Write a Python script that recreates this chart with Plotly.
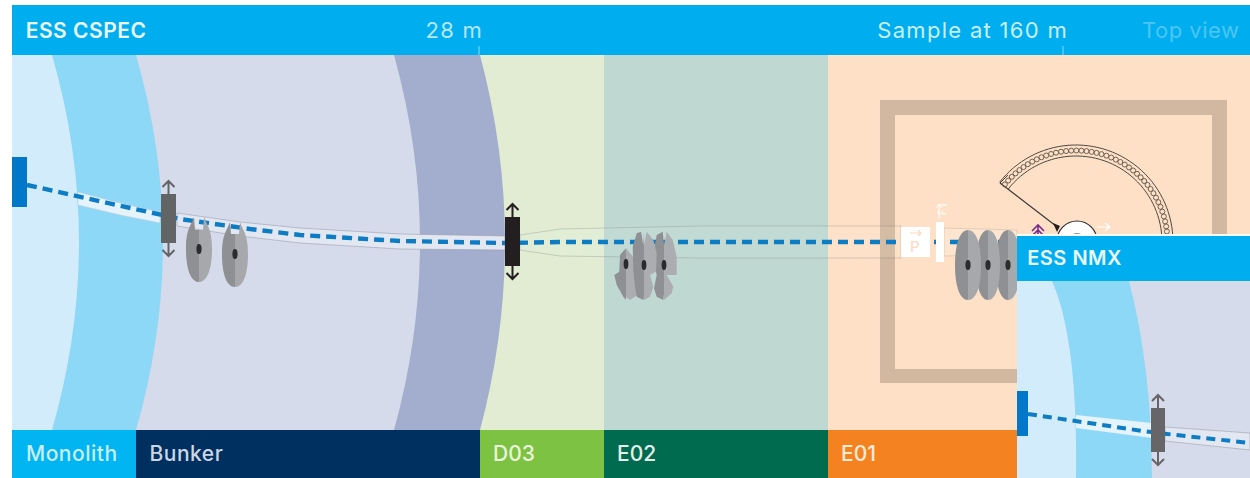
import json
import math
import plotly.graph_objects as go

W, H = 1250, 478

# --- text and section data ---
section_names = ["Monolith", "Bunker", "D03", "E02", "E01"]
section_left = [12, 136, 480, 604, 828]
section_right = [136, 480, 604, 828, 1017]
section_colors = ["#00B5F1", "#00305F", "#7DC242", "#006B4F", "#F58220"]
section_text = ["#C9EEFC", "#CBD6E6", "#EAF4DC", "#E2EFEA", "#FDEBD8"]
section_nudge = [2.5, 1.5, 0, 0, 0]
zone_colors = ["#FDE0C6", "#BFD8D2", "#E1ECD3"]

# zone boundaries: x at top/bottom, x of curve control
arc_names = ["dark", "lavender", "mid", "light"]
arc_edge = [480, 394, 136, 52]
arc_ctrl = [530, 446, 190, 106]
arc_colors = ["#A3ADCD", "#D5DBEB", "#8DD7F7", "#D3ECFB"]

# beam lines
beam_x = [27, 160, 180, 250, 300, 400, 505, 560, 800, 1017, 1100]
beam_y = [185, 215, 219, 229, 235, 241, 243, 242, 242, 242, 242]
band1_x = [78, 120, 160, 160, 120, 78]
band1_y = [192, 203, 212, 223, 215, 205]
band2_x = [177, 240, 300, 400, 505, 505, 400, 300, 240, 177]
band2_y = [213, 222, 228, 234, 236, 250, 249, 243, 236, 226]
band3_x = [520, 560, 700, 901, 901, 700, 560, 520]
band3_y = [235, 229, 226, 226, 258, 258, 256, 250]
band4_x = [944, 1017, 1017, 944]
band4_y = [228, 230, 254, 256]

# detector
det_cx, det_cy = 1076, 242
bead_angles = [141, 137.8, 134.6, 131.4, 128.2, 125, 121.8, 118.6, 115.4, 112.2, 109, 105.8, 102.6, 99.4,
               96.2, 93, 89.8, 86.6, 83.4, 80.2, 77, 73.8, 70.6, 67.4, 64.2, 61, 57.8, 54.6, 51.4, 48.2,
               45, 41.8, 38.6, 35.4, 32.2, 29, 25.8, 22.6, 19.4, 16.2, 13, 9.8, 6.6]

# choppers: centre x, centre y, half width, half height, notch
disc_x = [199, 235, 1008, 988, 968]
disc_y = [249, 254, 265, 265, 265]
disc_hw = [13, 13, 12, 12, 13]
disc_hh = [33, 33, 35, 35, 35]
disc_notch = [14, 13, 0, 0, 0]

# E02 chopper cluster outlines (crop coordinates, crop origin 480,190 at 3x)
clu1_u = [437, 420, 418, 403, 410, 430, 450, 472, 475, 470, 455]
clu1_v = [175, 195, 245, 255, 285, 320, 330, 315, 260, 225, 195]
clu2_u = [458, 470, 483, 490, 500, 520, 530, 528, 510, 520, 510, 490, 470, 465, 460]
clu2_v = [170, 130, 125, 165, 125, 150, 190, 245, 255, 290, 320, 330, 320, 290, 240]
clu3_u = [525, 530, 548, 553, 560, 578, 590, 590, 560, 580, 575, 550, 530, 522, 530, 522]
clu3_v = [165, 135, 125, 165, 125, 150, 200, 255, 255, 290, 310, 330, 320, 295, 255, 220]
clu_hub_x = [626, 644, 664]
clu_hub_y = [264, 265, 265]

# actuators: x left, x right, top, bottom, colour
act_l = [161, 505]
act_r = [176, 520]
act_t = [194, 217]
act_b = [243, 266]
act_c = ["#636466", "#231F20"]

below, above = [], []


def rect(store, x0, x1, y0, y1, color):
    store.append(dict(type="rect", x0=x0, x1=x1, y0=y0, y1=y1, fillcolor=color,
                      line=dict(width=0), layer="below" if store is below else "above"))


def path(store, d, fill=None, line=None, width=0, dash=None):
    s = dict(type="path", path=d, layer="below" if store is below else "above",
             line=dict(width=width, color=line or "rgba(0,0,0,0)"))
    if fill:
        s["fillcolor"] = fill
    if dash:
        s["line"]["dash"] = dash
    store.append(s)


def ellipse(store, cx, cy, rx, ry, fill, line=None, width=0):
    store.append(dict(type="circle", x0=cx - rx, x1=cx + rx, y0=cy - ry, y1=cy + ry, fillcolor=fill,
                      line=dict(width=width, color=line or "rgba(0,0,0,0)"),
                      layer="below" if store is below else "above"))


def arrows(store, cx, top, bottom, color):
    # double arrow on an actuator
    path(store, f"M{cx},{top} L{cx},{top-12} M{cx-6},{top-7} L{cx},{top-13} L{cx+6},{top-7}", line=color, width=2)
    path(store, f"M{cx},{bottom} L{cx},{bottom+12} M{cx-6},{bottom+7} L{cx},{bottom+13} L{cx+6},{bottom+7}", line=color, width=2)


def disc(store, cx, cy, hw, hh, notch):
    k = 0.62
    t, b = cy - hh, cy + hh
    if notch:
        nb = t + notch
        lft = f"M{cx},{nb} L{cx-4},{nb} L{cx-5},{t+1} C{cx-hw*k},{t+10} {cx-hw},{cy-hh*k} {cx-hw},{cy} C{cx-hw},{cy+hh*k} {cx-hw*k},{b} {cx},{b} Z"
        rgt = f"M{cx},{nb} L{cx+4},{nb} L{cx+5},{t+1} C{cx+hw*k},{t+10} {cx+hw},{cy-hh*k} {cx+hw},{cy} C{cx+hw},{cy+hh*k} {cx+hw*k},{b} {cx},{b} Z"
    else:
        lft = f"M{cx},{t} C{cx-hw*k},{t} {cx-hw},{cy-hh*k} {cx-hw},{cy} C{cx-hw},{cy+hh*k} {cx-hw*k},{b} {cx},{b} Z"
        rgt = f"M{cx},{t} C{cx+hw*k},{t} {cx+hw},{cy-hh*k} {cx+hw},{cy} C{cx+hw},{cy+hh*k} {cx+hw*k},{b} {cx},{b} Z"
    path(store, lft, fill="#8F9093")
    path(store, rgt, fill="#A6A8AB")
    ellipse(store, cx, cy, 2.6, 5, "#2B2B2D")


def arc_path(r, a0, a1):
    # circular arc around the detector centre, as cubic segments
    n = 3
    d = math.radians(a1 - a0) / n
    k = 4 / 3 * math.tan(d / 4)
    a = math.radians(a0)
    out = f"M{det_cx + r*math.cos(a):.2f},{det_cy - r*math.sin(a):.2f}"
    for _ in range(n):
        b = a + d
        x1 = det_cx + r * (math.cos(a) - k * math.sin(a))
        y1 = det_cy - r * (math.sin(a) + k * math.cos(a))
        x2 = det_cx + r * (math.cos(b) + k * math.sin(b))
        y2 = det_cy - r * (math.sin(b) - k * math.cos(b))
        out += f" C{x1:.2f},{y1:.2f} {x2:.2f},{y2:.2f} {det_cx + r*math.cos(b):.2f},{det_cy - r*math.sin(b):.2f}"
        a = b
    return out


def half_clip(u, v, hub, side):
    # split outline at the hub column for the two-tone disc
    pts = [(480 + a / 3, 190 + c / 3) for a, c in zip(u, v)]
    sel = [(min(a, hub), c) if side < 0 else (max(a, hub), c) for a, c in pts]
    return "M" + " L".join(f"{a:.1f},{c:.1f}" for a, c in sel) + " Z"


# --- background zones ---
rect(below, 828, W, 55, 430, zone_colors[0])
rect(below, 604, 828, 55, 430, zone_colors[1])
rect(below, 480, 604, 55, 430, zone_colors[2])
for edge, ctrl, col in zip(arc_edge, arc_ctrl, arc_colors):
    path(below, f"M12,55 L{edge},55 Q{ctrl},242 {edge},430 L12,430 Z", fill=col)

# --- cave walls ---
rect(below, 880, 1227, 100, 115, "#D2B8A0")
rect(below, 880, 1227, 369, 383, "#D2B8A0")
rect(below, 880, 895, 100, 383, "#D2B8A0")
rect(below, 1212, 1227, 100, 383, "#D2B8A0")

# --- detector arc ---
for r in (97, 86):
    path(below, arc_path(r, 142, 0), line="#4F4A44", width=1)
path(below, f"M{det_cx-76},{det_cy-59} L{det_cx-76+8},{det_cy-59-8}", line="#4F4A44", width=1)
path(below, f"M1000,183 L1056,226", line="#3B3733", width=1.2)

fig = go.Figure()

# --- guides and beam ---
for bx, by, fc, lc in [(band1_x, band1_y, "#E4F3FC", "rgba(190,200,210,0.5)"),
                       (band2_x, band2_y, "#E3E7F1", "rgba(150,155,170,0.55)"),
                       (band3_x, band3_y, "rgba(255,255,255,0.06)", "rgba(120,130,125,0.3)"),
                       (band4_x, band4_y, "rgba(255,255,255,0.18)", "rgba(190,170,150,0.4)")]:
    fig.add_trace(go.Scatter(x=bx + bx[:1], y=by + by[:1], mode="lines", fill="toself", fillcolor=fc,
                             line=dict(color=lc, width=1), hoverinfo="skip", showlegend=False))
fig.add_trace(go.Scatter(x=beam_x, y=beam_y, mode="lines", line=dict(color="#0C7CC5", width=4.4, dash="10px,6px"),
                         hoverinfo="skip", showlegend=False))
fig.add_trace(go.Scatter(x=[det_cx + 91.5 * math.cos(math.radians(a)) for a in bead_angles],
                         y=[det_cy - 91.5 * math.sin(math.radians(a)) for a in bead_angles],
                         mode="markers", marker=dict(symbol="circle-open", size=5, color="#6B6155", line=dict(width=1)),
                         hoverinfo="skip", showlegend=False))

# --- sample and small items ---
ellipse(above, 1077, 241, 20, 20, "#FFFFFF", "#2B2B2D", 1.2)
ellipse(above, 1077, 241, 8, 8, "#8A8A8A")
path(above, "M1053,223 L1060,226 L1057,232 Z", fill="#231F20")
path(above, "M1038,240 L1038,226 M1032,231 L1038,225 L1044,231 M1032,236 L1038,230 L1044,236", line="#7B2A8B", width=1.6)
path(above, "M1097,227 L1110,227 M1105,223 L1110,227 L1105,231", line="#FFFFFF", width=1.2)

# --- P box and slit ---
rect(above, 901, 930, 227, 257, "#FFFFFF")
path(above, "M910,233 L921,233 M918,230 L921,233 L918,236", line="#FBD9BB", width=1.2)
path(above, "M940,222 L940,262", line="#FFFFFF", width=8)
path(above, "M939,219 L939,205 M936,208 L939,204 L942,208", line="#FFFFFF", width=1)
path(above, "M939,205 L947,205", line="#FFFFFF", width=1)

# --- actuators ---
for l, r, t, b, c in zip(act_l, act_r, act_t, act_b, act_c):
    rect(above, l, r, t, b, c)
    arrows(above, (l + r) / 2, t, b, c)

# --- choppers ---
for cx, cy, hw, hh, n in zip(disc_x, disc_y, disc_hw, disc_hh, disc_notch):
    disc(above, cx, cy, hw, hh, n)
for u, v, hx, hy in zip((clu1_u, clu3_u, clu2_u), (clu1_v, clu3_v, clu2_v),
                        (clu_hub_x[0], clu_hub_x[2], clu_hub_x[1]), (clu_hub_y[0], clu_hub_y[2], clu_hub_y[1])):
    path(above, half_clip(u, v, hx, -1), fill="#8F9093")
    path(above, half_clip(u, v, hx, 1), fill="#ABADB0")
    ellipse(above, hx, hy, 2.4, 5, "#2B2B2D")

# --- main header and footer ---
rect(below, 12, W, 5, 55, "#00AEEF")
path(below, "M479,46 L479,55", line="#8BD8F7", width=1)
path(below, "M1063,46 L1063,55", line="#8BD8F7", width=1)
for l, r, c in zip(section_left, section_right, section_colors):
    rect(below, l, r, 430, H, c)

# --- NMX inset panel ---
rect(above, 1017, W, 234, 236, "#FFFFFF")
rect(above, 1017, W, 236, 281, "#00AEEF")
rect(above, 1017, W, 281, H, "#D5DBEB")
path(above, f"M1017,281 L1129,281 Q1152,370 1152,{H} L1017,{H} Z", fill="#8DD7F7")
path(above, f"M1017,281 L1052,281 Q1078,340 1076,{H} L1017,{H} Z", fill="#D3ECFB")
path(above, "M1076,415 L1152,423 L1152,438 L1076,428 Z", fill="#E4F3FC")
path(above, "M1165,427 L1250,433 L1250,450 L1165,441 Z", fill="#E3E7F1", line="rgba(150,155,170,0.55)", width=1)
path(above, "M1028,414 L1143,431 L1167,434 L1250,443", line="#0C7CC5", width=4, dash="9px,6px")
rect(above, 1017, 1028, 391, 436, "#0077C8")
rect(above, 1151, 1165, 408, 452, "#666567")
arrows(above, 1158, 408, 452, "#666567")

# main source block sits at the instrument start
rect(above, 12, 27, 157, 207, "#0077C8")

fig.update_layout(
    width=W, height=H, margin=dict(l=0, r=0, t=0, b=0),
    paper_bgcolor="#FFFFFF", plot_bgcolor="rgba(0,0,0,0)",
    xaxis=dict(range=[0, W], visible=False, fixedrange=True),
    yaxis=dict(range=[H, 0], visible=False, fixedrange=True),
    shapes=below + above, showlegend=False,
)

spacing = {}


def label(x, y, text, color, size=20, anchor="left", weight=500, angle=0, track=0.5):
    # annotation text sits 2px inside its box edge, so shift to the measured text edge
    dx = {"left": -2, "right": 2, "center": 0}[anchor]
    spacing[text] = track
    fig.add_annotation(x=x + dx, y=y, text=text, showarrow=False, xanchor=anchor, yanchor="middle", textangle=angle,
                       font=dict(family="Inter", size=size, color=color, weight=weight))


label(27.5, 30, "ESS CSPEC", "#EAF8FE", 21, weight=600)
label(428, 30, "28 m", "#B5E6FA", 22, weight=400, track=1.2)
label(886.5, 30, "Sample at 160 m", "#C9EEFC", 22, weight=400, track=1.3)
label(1144, 30, "Top view", "#4CC5F3", 22, weight=400, track=0.5)
label(1028.5, 258, "ESS NMX", "#EAF8FE", 20, weight=600)
for n, l, c, g in zip(section_names, section_left, section_text, section_nudge):
    label(l + 13 + g, 453, n, c, 21, weight=500, track=0 if n in ("D03", "E02", "E01") else 0.5)
label(915, 246, "P", "#FBD9BB", 15, "center", 400, track=0)
label(942, 212, "F", "#FFFFFF", 10, "center", 400, angle=-90, track=0)

tracking_js = ("var s=" + json.dumps(spacing) + ";"
               "document.querySelectorAll('.annotation-text').forEach(function(t){"
               "var v=s[t.textContent];if(v){t.style.letterSpacing=v+'px';}});")
fig.write_html("out.html", config=dict(displayModeBar=False),
               post_script="document.body.style.margin='0';document.body.style.overflow='hidden';" + tracking_js)
